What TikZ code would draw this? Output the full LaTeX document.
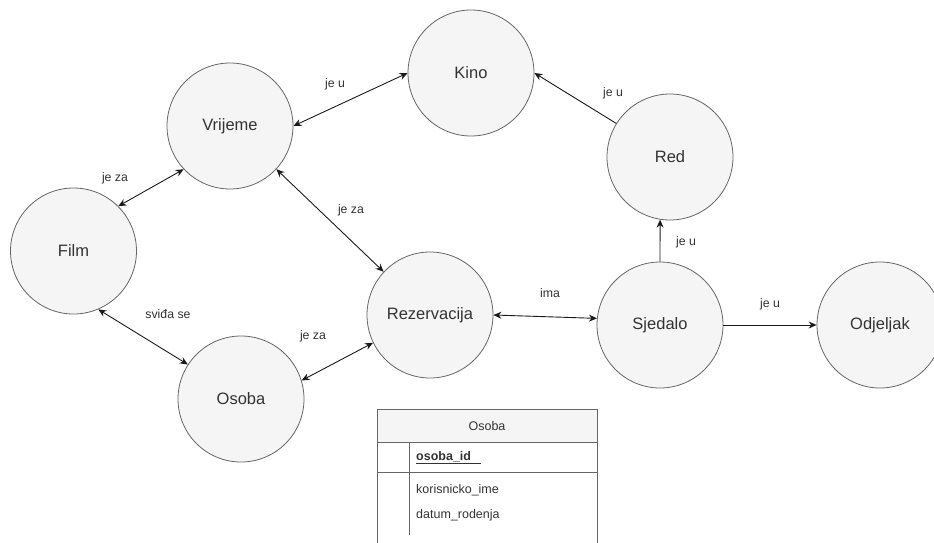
\documentclass[tikz,border=0pt]{standalone}
\usepackage{fontspec}
\setmainfont{Liberation Sans}
\usetikzlibrary{arrows.meta}
\definecolor{circfill}{HTML}{F5F5F5}
\definecolor{circline}{HTML}{666666}
\definecolor{txt}{HTML}{333333}
\definecolor{edge}{HTML}{1A1A1A}
\begin{document}
\begin{tikzpicture}[x=1pt,y=-1pt,
  ent/.style={circle,draw=circline,fill=circfill,line width=0.8pt,minimum size=126pt,inner sep=0pt,
    text=txt,font=\fontsize{16.5}{18}\selectfont},
  lbl/.style={text=txt,font=\fontsize{12.3}{14}\selectfont,inner sep=0pt},
  tbl/.style={text=txt,font=\fontsize{12.5}{14}\selectfont,inner sep=0pt},
  rel/.style={draw=edge,line width=0.9pt,{Stealth[length=8pt,width=7pt]}-{Stealth[length=8pt,width=7pt]}},
  dir/.style={draw=edge,line width=0.9pt,-{Stealth[length=8pt,width=7pt]}},
  tline/.style={draw=circline,line width=0.8pt}]
\useasboundingbox (0,0) rectangle (934,543);
\clip (0,0) rectangle (934,543);
% entities
\node[ent] (kino) at (471,73) {Kino};
\node[ent] (vrijeme) at (230,126) {Vrijeme};
\node[ent] (film) at (73.5,251) {Film};
\node[ent] (osoba) at (241,399) {Osoba};
\node[ent] (rez) at (430,315) {Rezervacija};
\node[ent] (sjedalo) at (660,325) {Sjedalo};
\node[ent] (red) at (670,157) {Red};
\node[ent] (odjeljak) at (880,325) {Odjeljak};
% connectors
\draw[rel] (vrijeme.east) -- (kino.west);
\draw[rel] (film.45) -- (vrijeme.223);
\draw[rel] (vrijeme.317) -- (rez.137);
\draw[rel] (film.293) -- (osoba.147);
\draw[rel] (osoba.17.6) -- (rez.206);
\draw[rel] (rez.east) -- (sjedalo.174);
\draw[dir] (red.148) -- (kino.east);
\draw[dir] (sjedalo.north) -- (red.261);
\draw[dir] (sjedalo.east) -- (odjeljak.west);
% labels
\node[lbl] (l1) at (335,84) {je u};
\node[lbl] (l2) at (115,178) {je za};
\node[lbl] (l3) at (351,210) {je za};
\node[lbl] (l4) at (168,314) {sviđa se};
\node[lbl] (l5) at (313,336) {je za};
\node[lbl] (l6) at (550,293) {ima};
\node[lbl] (l7) at (613,93) {je u};
\node[lbl] (l8) at (686,242) {je u};
\node[lbl] (l9) at (770,304) {je u};
% table
\fill[circfill] (377,409) rectangle (597,442);
\draw[tline] (377,543) -- (377,409) -- (597,409) -- (597,543);
\draw[tline] (377,442) -- (597,442);
\draw[tline] (377,472) -- (597,472);
\draw[tline] (409,442) -- (409,535);
\node[tbl] (thead) at (487,426) {Osoba};
\node[tbl,anchor=west,font=\fontsize{12.5}{14}\selectfont\bfseries] (pk) at (416,457) {osoba\_id};
\draw[txt,line width=0.7pt] (416,463.5) -- (481,463.5);
\node[tbl,anchor=west] (a1) at (416,490) {korisnicko\_ime};
\node[tbl,anchor=west] (a2) at (416,515) {datum\_rodenja};
\end{tikzpicture}
\end{document}
